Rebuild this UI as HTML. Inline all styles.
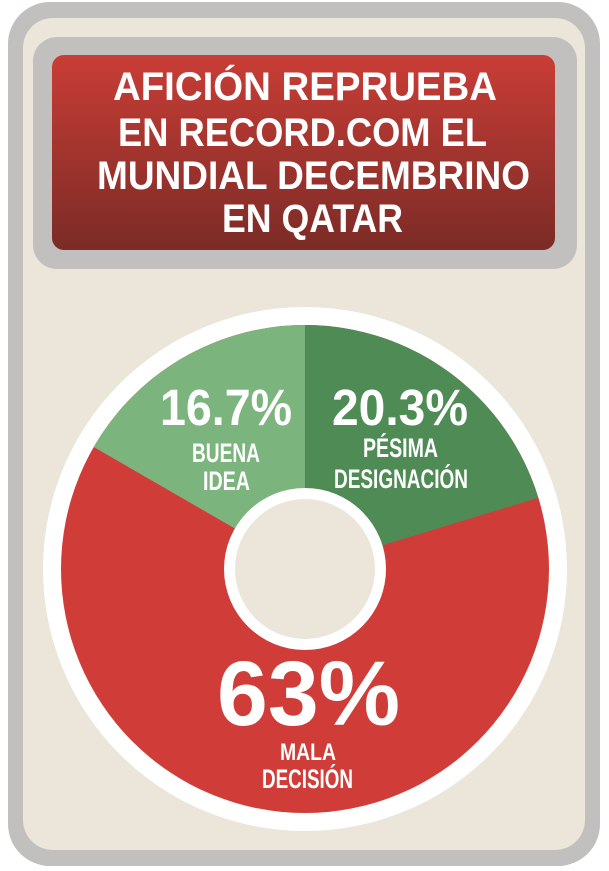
<!DOCTYPE html>
<html><head><meta charset="utf-8"><style>
html,body{margin:0;padding:0;background:#fff;}
svg{display:block}
text{font-family:"Liberation Sans Narrow","Liberation Sans",sans-serif;font-weight:bold;fill:#fff;}
</style></head><body>
<svg width="609" height="871" viewBox="0 0 609 871" xmlns="http://www.w3.org/2000/svg">
<defs>
<linearGradient id="tg" x1="0" y1="0" x2="0" y2="1">
<stop offset="0" stop-color="#c93d36"/><stop offset="1" stop-color="#7b2b26"/>
</linearGradient>
</defs>
<rect x="8" y="2" width="592" height="864" rx="42" fill="#c1c0be"/>
<rect x="23" y="18" width="562" height="832" rx="30" fill="#ebe5da"/>
<rect x="33" y="37" width="544" height="232" rx="24" fill="#c1c0be"/>
<rect x="52" y="55" width="503" height="195" rx="12" fill="url(#tg)"/>
<g font-size="40" text-anchor="start">
<text x="113" y="100" textLength="384" lengthAdjust="spacingAndGlyphs">AFICIÓN REPRUEBA</text>
<text x="118" y="146" textLength="369" lengthAdjust="spacingAndGlyphs">EN RECORD.COM EL</text>
<text x="97" y="189" textLength="433" lengthAdjust="spacingAndGlyphs">MUNDIAL DECEMBRINO</text>
<text x="222" y="232" textLength="181" lengthAdjust="spacingAndGlyphs">EN QATAR</text>
</g>
<circle cx="305" cy="569" r="262" fill="#fff"/>
<circle cx="305" cy="569" r="244" fill="#d03d38"/>
<path d="M305,569 L305,325 A244,244 0 0 0 93.7,447 Z" fill="#7bb57d"/>
<path d="M305,569 L305,325 A244,244 0 0 1 538.3,497.7 Z" fill="#4f8b54"/>
<circle cx="305" cy="569" r="81" fill="#fff"/>
<circle cx="305" cy="569" r="70" fill="#ebe5da"/>
<text x="160" y="425" font-size="51" textLength="132" lengthAdjust="spacingAndGlyphs">16.7%</text>
<text x="332" y="425" font-size="51" textLength="136" lengthAdjust="spacingAndGlyphs">20.3%</text>
<text x="192" y="462" font-size="27" textLength="68" lengthAdjust="spacingAndGlyphs">BUENA</text>
<text x="203" y="490" font-size="27" textLength="47" lengthAdjust="spacingAndGlyphs">IDEA</text>
<text x="363" y="457" font-size="27" textLength="75" lengthAdjust="spacingAndGlyphs">PÉSIMA</text>
<text x="334" y="488" font-size="27" textLength="134" lengthAdjust="spacingAndGlyphs">DESIGNACIÓN</text>
<text x="217" y="725" font-size="92" textLength="183" lengthAdjust="spacingAndGlyphs">63%</text>
<text x="280" y="760" font-size="24" textLength="56" lengthAdjust="spacingAndGlyphs">MALA</text>
<text x="262" y="788" font-size="27" textLength="91" lengthAdjust="spacingAndGlyphs">DECISIÓN</text>
</svg>
</body></html>
